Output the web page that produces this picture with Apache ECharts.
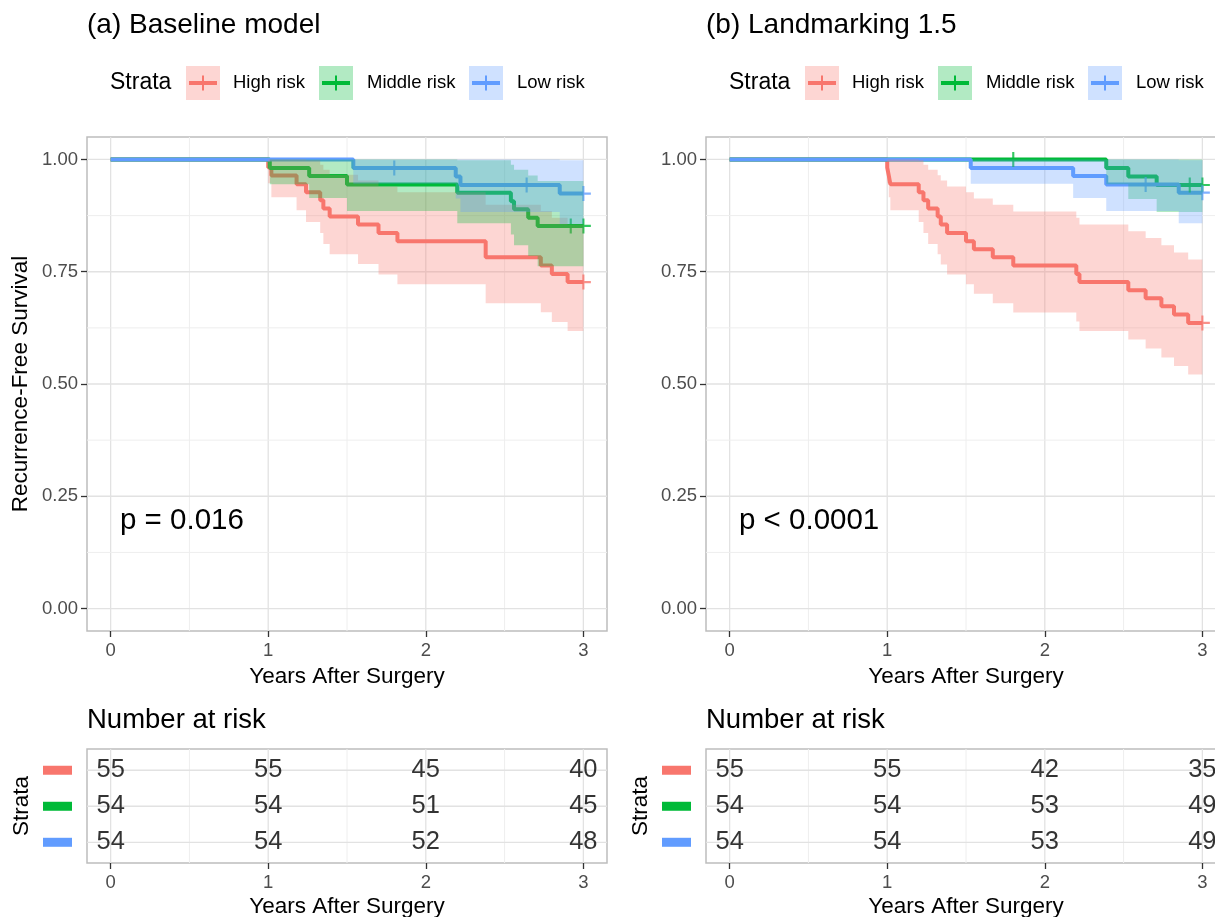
<!DOCTYPE html>
<html><head><meta charset="utf-8">
<script src="https://cdn.jsdelivr.net/npm/echarts@6/dist/echarts.min.js"></script>
<style>html,body{margin:0;padding:0;background:#fff}#chart{width:1215px;height:917px}</style>
</head><body><div id="chart"></div>
<script>
const FONT = '"Liberation Sans", Arial, Helvetica, sans-serif';
const strata = ['High risk', 'Middle risk', 'Low risk'];
const colors = ['#F8766D', '#00BA38', '#619CFF'];
const xTicks = [0, 1, 2, 3];
const xMinorTicks = [0.5, 1.5, 2.5];
const yTicks = [0, 0.25, 0.5, 0.75, 1];
const yMinorTicks = [0.125, 0.375, 0.625, 0.875];
const riskTimes = [0, 1, 2, 3];
const tableRows = [1, 2, 3];
const panelTitles = ['(a) Baseline model', '(b) Landmarking 1.5'];
const pValues = ['p = 0.016', 'p < 0.0001'];

// ---- Panel (a): Baseline model ----
const aHighTime  = [1.00, 1.02, 1.18, 1.24, 1.33, 1.35, 1.39, 1.57, 1.70, 1.82, 2.38, 2.73, 2.80, 2.90];
const aHighSurv  = [0.982, 0.964, 0.945, 0.927, 0.909, 0.891, 0.873, 0.855, 0.836, 0.818, 0.782, 0.764, 0.745, 0.727];
const aHighLower = [0.947, 0.916, 0.887, 0.861, 0.836, 0.812, 0.789, 0.767, 0.744, 0.722, 0.680, 0.660, 0.638, 0.618];
const aHighUpper = [1, 1, 1, 0.998, 0.988, 0.977, 0.966, 0.953, 0.940, 0.927, 0.899, 0.885, 0.870, 0.855];
const aHighCensor = [3.0];

const aMidTime  = [1.01, 1.26, 1.50, 2.20, 2.54, 2.56, 2.65, 2.71];
const aMidSurv  = [0.981, 0.963, 0.944, 0.926, 0.907, 0.889, 0.870, 0.852];
const aMidLower = [0.945, 0.914, 0.885, 0.858, 0.833, 0.809, 0.785, 0.762];
const aMidUpper = [1, 1, 1, 0.998, 0.988, 0.977, 0.964, 0.952];
const aMidCensor = [2.92, 3.0];

const aLowTime  = [1.54, 2.19, 2.22, 2.85];
const aLowSurv  = [0.981, 0.962, 0.943, 0.924];
const aLowLower = [0.946, 0.913, 0.883, 0.856];
const aLowUpper = [1, 1, 1, 0.998];
const aLowCensor = [1.80, 2.64, 3.0];

const aRiskHigh = [55, 55, 45, 40];
const aRiskMid  = [54, 54, 51, 45];
const aRiskLow  = [54, 54, 52, 48];

// ---- Panel (b): Landmarking 1.5 ----
const bHighTime  = [1.00, 1.01, 1.02, 1.20, 1.23, 1.26, 1.32, 1.34, 1.38, 1.50, 1.55, 1.67, 1.80, 2.20, 2.22, 2.53, 2.64, 2.74, 2.82, 2.91];
const bHighSurv  = [0.982, 0.964, 0.945, 0.927, 0.909, 0.891, 0.873, 0.855, 0.836, 0.818, 0.800, 0.782, 0.764, 0.745, 0.727, 0.709, 0.691, 0.673, 0.655, 0.636];
const bHighLower = [0.947, 0.916, 0.887, 0.861, 0.836, 0.812, 0.789, 0.766, 0.744, 0.722, 0.701, 0.680, 0.659, 0.639, 0.618, 0.599, 0.579, 0.559, 0.540, 0.521];
const bHighUpper = [1, 1, 1, 0.998, 0.988, 0.977, 0.965, 0.953, 0.940, 0.927, 0.913, 0.899, 0.884, 0.870, 0.855, 0.840, 0.825, 0.809, 0.793, 0.777];
const bHighCensor = [3.0];

const bMidTime  = [2.39, 2.53, 2.71];
const bMidSurv  = [0.981, 0.962, 0.943];
const bMidLower = [0.945, 0.912, 0.883];
const bMidUpper = [1, 1, 1];
const bMidCensor = [1.80, 2.92, 3.0];

const bLowTime  = [1.53, 2.18, 2.39, 2.85];
const bLowSurv  = [0.981, 0.963, 0.944, 0.926];
const bLowLower = [0.946, 0.914, 0.885, 0.858];
const bLowUpper = [1, 1, 1, 0.998];
const bLowCensor = [2.64, 3.0];

const bRiskHigh = [55, 55, 42, 35];
const bRiskMid  = [54, 54, 53, 49];
const bRiskLow  = [54, 54, 53, 49];

// ---------- build ----------
function grp(time, surv, lower, upper, censor) { return { time, surv, lower, upper, censor }; }
const panels = [
  [grp(aHighTime, aHighSurv, aHighLower, aHighUpper, aHighCensor),
   grp(aMidTime, aMidSurv, aMidLower, aMidUpper, aMidCensor),
   grp(aLowTime, aLowSurv, aLowLower, aLowUpper, aLowCensor)],
  [grp(bHighTime, bHighSurv, bHighLower, bHighUpper, bHighCensor),
   grp(bMidTime, bMidSurv, bMidLower, bMidUpper, bMidCensor),
   grp(bLowTime, bLowSurv, bLowLower, bLowUpper, bLowCensor)]
];
const risks = [[aRiskHigh, aRiskMid, aRiskLow], [bRiskHigh, bRiskMid, bRiskLow]];

function rgba(hex, a) {
  const n = parseInt(hex.slice(1), 16);
  return 'rgba(' + (n >> 16) + ',' + ((n >> 8) & 255) + ',' + (n & 255) + ',' + a + ')';
}
function survAt(g, t) {
  let s = 1;
  for (let i = 0; i < g.time.length; i++) if (g.time[i] <= t) s = g.surv[i];
  return s;
}
function endTime(g) { return Math.max.apply(null, g.censor.concat(g.time)); }

function gridRender(params, api) {
  const cs = params.coordSys;
  const v = api.value(0), kind = api.value(1), major = api.value(2);
  let shape;
  if (kind === 0) {
    const x = api.coord([v, api.value(3)])[0];
    shape = { x1: x, y1: cs.y, x2: x, y2: cs.y + cs.height };
  } else {
    const y = api.coord([1, v])[1];
    shape = { x1: cs.x, y1: y, x2: cs.x + cs.width, y2: y };
  }
  return { type: 'line', shape: shape, silent: true,
    style: { stroke: major ? '#E2E2E2' : '#EEEEEE', lineWidth: major ? 1.3 : 1 } };
}
function gridData(xMaj, xMin, yMaj, yMin, yRef) {
  const d = [];
  xMaj.forEach(v => d.push([v, 0, 1, yRef]));
  xMin.forEach(v => d.push([v, 0, 0, yRef]));
  yMaj.forEach(v => d.push([v, 1, 1, yRef]));
  yMin.forEach(v => d.push([v, 1, 0, yRef]));
  return d;
}
function bandRender(g, color) {
  return function (params, api) {
    const n = g.time.length, end = endTime(g), pts = [];
    for (let i = 0; i < n; i++) {
      const t1 = i < n - 1 ? g.time[i + 1] : end;
      pts.push(api.coord([g.time[i], g.upper[i]]));
      pts.push(api.coord([t1, g.upper[i]]));
    }
    for (let i = n - 1; i >= 0; i--) {
      const t1 = i < n - 1 ? g.time[i + 1] : end;
      pts.push(api.coord([t1, g.lower[i]]));
      pts.push(api.coord([g.time[i], g.lower[i]]));
    }
    return { type: 'polygon', shape: { points: pts }, silent: true, style: { fill: rgba(color, 0.3) } };
  };
}
const plusPath = 'path://M-1,-7L1,-7L1,-1L7,-1L7,1L1,1L1,7L-1,7L-1,1L-7,1L-7,-1L-1,-1Z';

const grids = [], xAxes = [], yAxes = [], series = [], graphics = [];
const PX = [87, 706];

for (let p = 0; p < 2; p++) {
  const kmIdx = p * 2, tabIdx = p * 2 + 1;
  grids.push({ left: PX[p], top: 137, width: 520, height: 494, show: true, borderColor: '#BDBDBD', borderWidth: 1.5, backgroundColor: '#fff', outerBoundsMode: 'none', containLabel: false });
  grids.push({ left: PX[p], top: 749, width: 520, height: 114, show: true, borderColor: '#BDBDBD', borderWidth: 1.5, backgroundColor: '#fff', outerBoundsMode: 'none', containLabel: false });
  const xCommon = {
    type: 'value', min: -0.15, max: 3.15,
    axisLine: { show: false, onZero: false },
    axisTick: { show: true, customValues: xTicks, length: 6, lineStyle: { color: '#333', width: 1.3 } },
    axisLabel: { customValues: xTicks, fontSize: 18.5, color: '#4D4D4D', margin: 10, fontFamily: FONT },
    splitLine: { show: false },
    name: 'Years After Surgery', nameLocation: 'middle', nameGap: 32,
    nameTextStyle: { fontSize: 22.5, color: '#000', fontFamily: FONT }
  };
  xAxes.push(Object.assign({ gridIndex: kmIdx }, xCommon));
  xAxes.push(Object.assign({ gridIndex: tabIdx }, xCommon));
  yAxes.push({
    gridIndex: kmIdx, type: 'value', min: -0.05, max: 1.05,
    axisLine: { show: false, onZero: false },
    axisTick: { show: true, customValues: yTicks, length: 6, lineStyle: { color: '#333', width: 1.3 } },
    axisLabel: { customValues: yTicks, formatter: v => Number(v).toFixed(2), fontSize: 18.5, color: '#4D4D4D', margin: 9, fontFamily: FONT },
    splitLine: { show: false },
    name: p === 0 ? 'Recurrence-Free Survival' : '', nameLocation: 'middle', nameRotate: 90, nameGap: 55,
    nameTextStyle: { fontSize: 22.5, color: '#000', fontFamily: FONT }
  });
  const rich = {};
  colors.forEach((c, i) => { rich['k' + i] = { backgroundColor: c, width: 29, height: 9, lineHeight: 9, fontSize: 2 }; });
  yAxes.push({
    gridIndex: tabIdx, type: 'value', min: 0.41, max: 3.575, inverse: true,
    axisLine: { show: false, onZero: false },
    axisTick: { show: false },
    axisLabel: { customValues: tableRows, formatter: v => '{k' + (Math.round(v) - 1) + '| }', rich: rich, margin: 15 },
    splitLine: { show: false },
    name: 'Strata', nameLocation: 'middle', nameRotate: 90, nameGap: 54,
    nameTextStyle: { fontSize: 22.5, color: '#000', fontFamily: FONT }
  });

  // gridlines
  series.push({ type: 'custom', xAxisIndex: kmIdx, yAxisIndex: kmIdx, z: 1, silent: true, animation: false,
    renderItem: gridRender, data: gridData(xTicks, xMinorTicks, yTicks, yMinorTicks, 0.5) });
  series.push({ type: 'custom', xAxisIndex: tabIdx, yAxisIndex: tabIdx, z: 1, silent: true, animation: false,
    renderItem: gridRender, data: gridData(xTicks, xMinorTicks, tableRows, [], 2) });

  panels[p].forEach((g, i) => {
    const end = endTime(g);
    const pts = [[0, 1]];
    g.time.forEach((t, k) => pts.push([t, g.surv[k]]));
    pts.push([end, g.surv[g.surv.length - 1]]);
    series.push({ type: 'line', name: strata[i], xAxisIndex: kmIdx, yAxisIndex: kmIdx, data: pts, step: 'end',
      showSymbol: false, symbol: 'none', z: 2, silent: true, animation: false,
      lineStyle: { color: colors[i], width: 4 }, itemStyle: { color: colors[i] } });
    series.push({ type: 'scatter', xAxisIndex: kmIdx, yAxisIndex: kmIdx, z: 3, silent: true, animation: false,
      symbol: plusPath, symbolSize: 15, itemStyle: { color: colors[i] },
      data: g.censor.map(t => [t, survAt(g, t)]) });
  });
  panels[p].forEach((g, i) => {
    series.push({ type: 'custom', xAxisIndex: kmIdx, yAxisIndex: kmIdx, z: 4, silent: true, animation: false,
      renderItem: bandRender(g, colors[i]), data: [[0, 0]] });
  });
  risks[p].forEach((r, i) => {
    series.push({ type: 'scatter', xAxisIndex: tabIdx, yAxisIndex: tabIdx, z: 5, silent: true, animation: false,
      symbolSize: 1, itemStyle: { color: 'rgba(0,0,0,0)' },
      label: { show: true, position: 'inside', formatter: q => String(q.value[2]), fontSize: 25.5, color: '#000', fontFamily: FONT },
      data: riskTimes.map((t, k) => [t, tableRows[i], r[k]]) });
  });

  // texts and legend
  const dx = p === 0 ? 0 : 619;
  graphics.push({ type: 'text', x: 87 + dx, y: 25, style: { text: panelTitles[p], fontSize: 28, fontFamily: FONT, fill: '#000', align: 'left', verticalAlign: 'middle' } });
  graphics.push({ type: 'text', x: 87 + dx, y: 720.5, style: { text: 'Number at risk', fontSize: 27.5, fontFamily: FONT, fill: '#000', align: 'left', verticalAlign: 'middle' } });
  graphics.push({ type: 'text', x: 120 + dx, y: 520.5, z: 10, style: { text: pValues[p], fontSize: 29.5, fontFamily: FONT, fill: '#000', align: 'left', verticalAlign: 'middle' } });
  graphics.push({ type: 'text', x: 110 + dx, y: 83, style: { text: 'Strata', fontSize: 23, fontFamily: FONT, fill: '#000', align: 'left', verticalAlign: 'middle' } });
  const keyX = [186, 319, 469], labX = [233, 367, 517];
  strata.forEach((s, i) => {
    const kx = keyX[i] + dx;
    graphics.push({ type: 'rect', shape: { x: kx, y: 66, width: 34, height: 34 }, style: { fill: rgba(colors[i], 0.3) } });
    graphics.push({ type: 'line', shape: { x1: kx + 3, y1: 83, x2: kx + 31, y2: 83 }, style: { stroke: colors[i], lineWidth: 4 } });
    graphics.push({ type: 'line', shape: { x1: kx + 17, y1: 75.5, x2: kx + 17, y2: 90.5 }, style: { stroke: colors[i], lineWidth: 2 } });
    graphics.push({ type: 'text', x: labX[i] + dx, y: 83, style: { text: s, fontSize: 18.5, fontFamily: FONT, fill: '#000', align: 'left', verticalAlign: 'middle' } });
  });
}

const chart = echarts.init(document.getElementById('chart'), null, { renderer: 'canvas' });
chart.setOption({
  backgroundColor: '#fff',
  animation: false,
  textStyle: { fontFamily: FONT },
  grid: grids, xAxis: xAxes, yAxis: yAxes, series: series, graphic: graphics
});
</script></body></html>
